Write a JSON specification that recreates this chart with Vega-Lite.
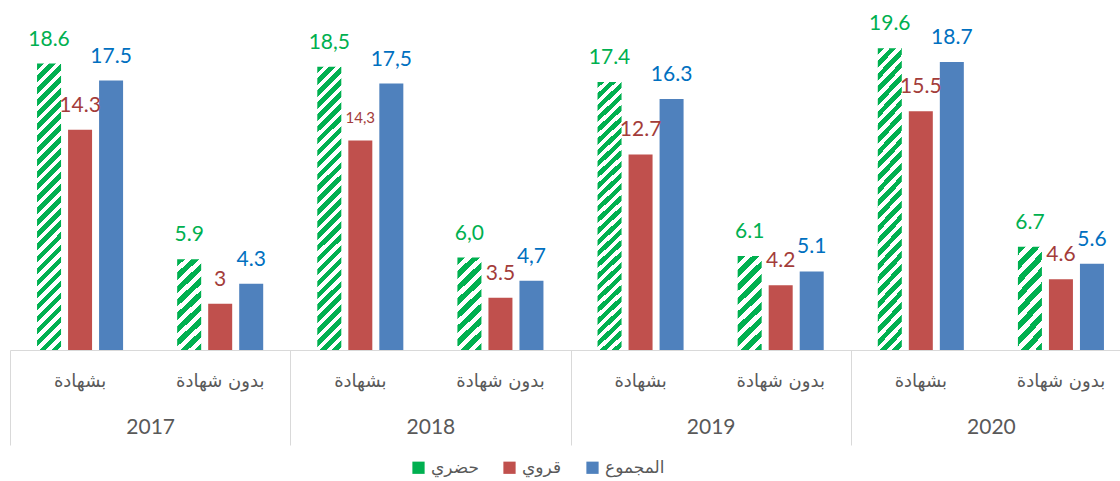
{
  "$schema": "https://vega.github.io/schema/vega-lite/v6.json",
  "width": 1110,
  "height": 308,
  "autosize": {"type": "none"},
  "padding": {"left": 10, "top": 42, "right": 0, "bottom": 131},
  "config": {"view": {"stroke": null}},
  "data": {"values": [
    {"year": "2017", "group": "2017 بشهادة", "series": "حضري", "value": 18.6, "label": "18.6"},
    {"year": "2017", "group": "2017 بشهادة", "series": "قروي", "value": 14.3, "label": "14.3"},
    {"year": "2017", "group": "2017 بشهادة", "series": "المجموع", "value": 17.5, "label": "17.5"},
    {"year": "2017", "group": "2017 بدون شهادة", "series": "حضري", "value": 5.9, "label": "5.9"},
    {"year": "2017", "group": "2017 بدون شهادة", "series": "قروي", "value": 3.0, "label": "3"},
    {"year": "2017", "group": "2017 بدون شهادة", "series": "المجموع", "value": 4.3, "label": "4.3"},
    {"year": "2018", "group": "2018 بشهادة", "series": "حضري", "value": 18.4, "label": "18,5"},
    {"year": "2018", "group": "2018 بشهادة", "series": "قروي", "value": 13.6, "label": "14,3"},
    {"year": "2018", "group": "2018 بشهادة", "series": "المجموع", "value": 17.3, "label": "17,5"},
    {"year": "2018", "group": "2018 بدون شهادة", "series": "حضري", "value": 6.0, "label": "6,0"},
    {"year": "2018", "group": "2018 بدون شهادة", "series": "قروي", "value": 3.4, "label": "3.5"},
    {"year": "2018", "group": "2018 بدون شهادة", "series": "المجموع", "value": 4.5, "label": "4,7"},
    {"year": "2019", "group": "2019 بشهادة", "series": "حضري", "value": 17.4, "label": "17.4"},
    {"year": "2019", "group": "2019 بشهادة", "series": "قروي", "value": 12.7, "label": "12.7"},
    {"year": "2019", "group": "2019 بشهادة", "series": "المجموع", "value": 16.3, "label": "16.3"},
    {"year": "2019", "group": "2019 بدون شهادة", "series": "حضري", "value": 6.1, "label": "6.1"},
    {"year": "2019", "group": "2019 بدون شهادة", "series": "قروي", "value": 4.2, "label": "4.2"},
    {"year": "2019", "group": "2019 بدون شهادة", "series": "المجموع", "value": 5.1, "label": "5.1"},
    {"year": "2020", "group": "2020 بشهادة", "series": "حضري", "value": 19.6, "label": "19.6"},
    {"year": "2020", "group": "2020 بشهادة", "series": "قروي", "value": 15.5, "label": "15.5"},
    {"year": "2020", "group": "2020 بشهادة", "series": "المجموع", "value": 18.7, "label": "18.7"},
    {"year": "2020", "group": "2020 بدون شهادة", "series": "حضري", "value": 6.7, "label": "6.7"},
    {"year": "2020", "group": "2020 بدون شهادة", "series": "قروي", "value": 4.6, "label": "4.6"},
    {"year": "2020", "group": "2020 بدون شهادة", "series": "المجموع", "value": 5.6, "label": "5.6"}
  ]},
  "layer": [
    {
      "encoding": {
        "x": {
          "field": "group", "type": "nominal",
          "sort": ["2017 بشهادة", "2017 بدون شهادة", "2018 بشهادة", "2018 بدون شهادة", "2019 بشهادة", "2019 بدون شهادة", "2020 بشهادة", "2020 بدون شهادة"],
          "scale": {"range": [0, 1121], "paddingInner": 0.386, "paddingOuter": 0.193},
          "axis": {
            "title": null, "labelAngle": 0, "ticks": false,
            "domainColor": "#d9d9d9", "domainWidth": 1,
            "labelExpr": "substring(datum.value, 5)",
            "labelFont": "DejaVu Sans", "labelFontSize": 18, "labelColor": "#595959",
            "labelPadding": 22, "labelBaseline": "top"
          }
        },
        "xOffset": {
          "field": "series", "type": "nominal",
          "sort": ["حضري", "قروي", "المجموع"],
          "scale": {"paddingInner": 0.226, "paddingOuter": 0}
        },
        "y": {
          "field": "value", "type": "quantitative",
          "scale": {"domain": [0, 20], "nice": false},
          "axis": null
        }
      },
      "layer": [
        {
          "mark": {"type": "bar"},
          "encoding": {
            "fill": {
              "field": "series", "type": "nominal",
              "scale": {"domain": ["حضري", "قروي", "المجموع"], "range": ["#00b050", "#c0504d", "#4f81bd"]},
              "legend": {
                "title": null, "orient": "none", "legendX": 400, "legendY": 417, "direction": "horizontal",
                "symbolType": "square", "symbolSize": 150, "symbolStrokeWidth": 0,
                "labelFont": "DejaVu Sans", "labelFontSize": 17, "labelColor": "#595959",
                "columnPadding": 22
              },
              "condition": [
                {
                  "test": "datum.series === 'حضري' && datum.value > 10",
                  "value": {
                    "gradient": "linear", "x1": 0, "y1": 0, "x2": 0.091, "y2": 1.084,
                    "stops": [
                      {"offset": 0, "color": "#00b050"}, {"offset": 0.0212, "color": "#00b050"}, {"offset": 0.0212, "color": "#ffffff"}, {"offset": 0.0385, "color": "#ffffff"},
                      {"offset": 0.0385, "color": "#00b050"}, {"offset": 0.0596, "color": "#00b050"}, {"offset": 0.0596, "color": "#ffffff"}, {"offset": 0.0769, "color": "#ffffff"},
                      {"offset": 0.0769, "color": "#00b050"}, {"offset": 0.0981, "color": "#00b050"}, {"offset": 0.0981, "color": "#ffffff"}, {"offset": 0.1154, "color": "#ffffff"},
                      {"offset": 0.1154, "color": "#00b050"}, {"offset": 0.1365, "color": "#00b050"}, {"offset": 0.1365, "color": "#ffffff"}, {"offset": 0.1538, "color": "#ffffff"},
                      {"offset": 0.1538, "color": "#00b050"}, {"offset": 0.1750, "color": "#00b050"}, {"offset": 0.1750, "color": "#ffffff"}, {"offset": 0.1923, "color": "#ffffff"},
                      {"offset": 0.1923, "color": "#00b050"}, {"offset": 0.2135, "color": "#00b050"}, {"offset": 0.2135, "color": "#ffffff"}, {"offset": 0.2308, "color": "#ffffff"},
                      {"offset": 0.2308, "color": "#00b050"}, {"offset": 0.2519, "color": "#00b050"}, {"offset": 0.2519, "color": "#ffffff"}, {"offset": 0.2692, "color": "#ffffff"},
                      {"offset": 0.2692, "color": "#00b050"}, {"offset": 0.2904, "color": "#00b050"}, {"offset": 0.2904, "color": "#ffffff"}, {"offset": 0.3077, "color": "#ffffff"},
                      {"offset": 0.3077, "color": "#00b050"}, {"offset": 0.3288, "color": "#00b050"}, {"offset": 0.3288, "color": "#ffffff"}, {"offset": 0.3462, "color": "#ffffff"},
                      {"offset": 0.3462, "color": "#00b050"}, {"offset": 0.3673, "color": "#00b050"}, {"offset": 0.3673, "color": "#ffffff"}, {"offset": 0.3846, "color": "#ffffff"},
                      {"offset": 0.3846, "color": "#00b050"}, {"offset": 0.4058, "color": "#00b050"}, {"offset": 0.4058, "color": "#ffffff"}, {"offset": 0.4231, "color": "#ffffff"},
                      {"offset": 0.4231, "color": "#00b050"}, {"offset": 0.4442, "color": "#00b050"}, {"offset": 0.4442, "color": "#ffffff"}, {"offset": 0.4615, "color": "#ffffff"},
                      {"offset": 0.4615, "color": "#00b050"}, {"offset": 0.4827, "color": "#00b050"}, {"offset": 0.4827, "color": "#ffffff"}, {"offset": 0.5, "color": "#ffffff"},
                      {"offset": 0.5, "color": "#00b050"}, {"offset": 0.5212, "color": "#00b050"}, {"offset": 0.5212, "color": "#ffffff"}, {"offset": 0.5385, "color": "#ffffff"},
                      {"offset": 0.5385, "color": "#00b050"}, {"offset": 0.5596, "color": "#00b050"}, {"offset": 0.5596, "color": "#ffffff"}, {"offset": 0.5769, "color": "#ffffff"},
                      {"offset": 0.5769, "color": "#00b050"}, {"offset": 0.5981, "color": "#00b050"}, {"offset": 0.5981, "color": "#ffffff"}, {"offset": 0.6154, "color": "#ffffff"},
                      {"offset": 0.6154, "color": "#00b050"}, {"offset": 0.6365, "color": "#00b050"}, {"offset": 0.6365, "color": "#ffffff"}, {"offset": 0.6538, "color": "#ffffff"},
                      {"offset": 0.6538, "color": "#00b050"}, {"offset": 0.6750, "color": "#00b050"}, {"offset": 0.6750, "color": "#ffffff"}, {"offset": 0.6923, "color": "#ffffff"},
                      {"offset": 0.6923, "color": "#00b050"}, {"offset": 0.7135, "color": "#00b050"}, {"offset": 0.7135, "color": "#ffffff"}, {"offset": 0.7308, "color": "#ffffff"},
                      {"offset": 0.7308, "color": "#00b050"}, {"offset": 0.7519, "color": "#00b050"}, {"offset": 0.7519, "color": "#ffffff"}, {"offset": 0.7692, "color": "#ffffff"},
                      {"offset": 0.7692, "color": "#00b050"}, {"offset": 0.7904, "color": "#00b050"}, {"offset": 0.7904, "color": "#ffffff"}, {"offset": 0.8077, "color": "#ffffff"},
                      {"offset": 0.8077, "color": "#00b050"}, {"offset": 0.8288, "color": "#00b050"}, {"offset": 0.8288, "color": "#ffffff"}, {"offset": 0.8462, "color": "#ffffff"},
                      {"offset": 0.8462, "color": "#00b050"}, {"offset": 0.8673, "color": "#00b050"}, {"offset": 0.8673, "color": "#ffffff"}, {"offset": 0.8846, "color": "#ffffff"},
                      {"offset": 0.8846, "color": "#00b050"}, {"offset": 0.9058, "color": "#00b050"}, {"offset": 0.9058, "color": "#ffffff"}, {"offset": 0.9231, "color": "#ffffff"},
                      {"offset": 0.9231, "color": "#00b050"}, {"offset": 0.9442, "color": "#00b050"}, {"offset": 0.9442, "color": "#ffffff"}, {"offset": 0.9615, "color": "#ffffff"},
                      {"offset": 0.9615, "color": "#00b050"}, {"offset": 0.9827, "color": "#00b050"}, {"offset": 0.9827, "color": "#ffffff"}, {"offset": 1, "color": "#ffffff"}
                    ]
                  }
                },
                {
                  "test": "datum.series === 'حضري'",
                  "value": {
                    "gradient": "linear", "x1": 0, "y1": 0, "x2": 0.308, "y2": 1.247,
                    "stops": [
                      {"offset": 0, "color": "#00b050"}, {"offset": 0.0611, "color": "#00b050"}, {"offset": 0.0611, "color": "#ffffff"}, {"offset": 0.1111, "color": "#ffffff"},
                      {"offset": 0.1111, "color": "#00b050"}, {"offset": 0.1722, "color": "#00b050"}, {"offset": 0.1722, "color": "#ffffff"}, {"offset": 0.2222, "color": "#ffffff"},
                      {"offset": 0.2222, "color": "#00b050"}, {"offset": 0.2833, "color": "#00b050"}, {"offset": 0.2833, "color": "#ffffff"}, {"offset": 0.3333, "color": "#ffffff"},
                      {"offset": 0.3333, "color": "#00b050"}, {"offset": 0.3944, "color": "#00b050"}, {"offset": 0.3944, "color": "#ffffff"}, {"offset": 0.4444, "color": "#ffffff"},
                      {"offset": 0.4444, "color": "#00b050"}, {"offset": 0.5056, "color": "#00b050"}, {"offset": 0.5056, "color": "#ffffff"}, {"offset": 0.5556, "color": "#ffffff"},
                      {"offset": 0.5556, "color": "#00b050"}, {"offset": 0.6167, "color": "#00b050"}, {"offset": 0.6167, "color": "#ffffff"}, {"offset": 0.6667, "color": "#ffffff"},
                      {"offset": 0.6667, "color": "#00b050"}, {"offset": 0.7278, "color": "#00b050"}, {"offset": 0.7278, "color": "#ffffff"}, {"offset": 0.7778, "color": "#ffffff"},
                      {"offset": 0.7778, "color": "#00b050"}, {"offset": 0.8389, "color": "#00b050"}, {"offset": 0.8389, "color": "#ffffff"}, {"offset": 0.8889, "color": "#ffffff"},
                      {"offset": 0.8889, "color": "#00b050"}, {"offset": 0.95, "color": "#00b050"}, {"offset": 0.95, "color": "#ffffff"}, {"offset": 1, "color": "#ffffff"}
                    ]
                  }
                }
              ]
            }
          }
        },
        {
          "mark": {"type": "text", "baseline": "alphabetic", "dy": -18, "font": "Lato"},
          "encoding": {
            "text": {"field": "label", "type": "nominal"},
            "size": {"condition": {"test": "datum.label === '14,3'", "value": 15}, "value": 21},
            "color": {
              "condition": [
                {"test": "datum.series === 'حضري'", "value": "#00b050"},
                {"test": "datum.series === 'قروي'", "value": "#a33c3a"}
              ],
              "value": "#0070c0"
            }
          }
        }
      ]
    },
    {
      "mark": {"type": "rule", "opacity": 0},
      "encoding": {
        "x": {
          "field": "year", "type": "nominal",
          "scale": {"range": [0, 1121], "paddingInner": 0, "paddingOuter": 0},
          "axis": {
            "title": null, "orient": "bottom", "labelAngle": 0, "domain": false,
            "ticks": true, "tickBand": "extent", "tickSize": 95, "tickColor": "#d9d9d9", "tickWidth": 1,
            "labelFont": "Lato", "labelFontSize": 21, "labelColor": "#595959",
            "labelPadding": -29, "labelBaseline": "top"
          }
        }
      }
    }
  ],
  "resolve": {"scale": {"x": "independent"}}
}
